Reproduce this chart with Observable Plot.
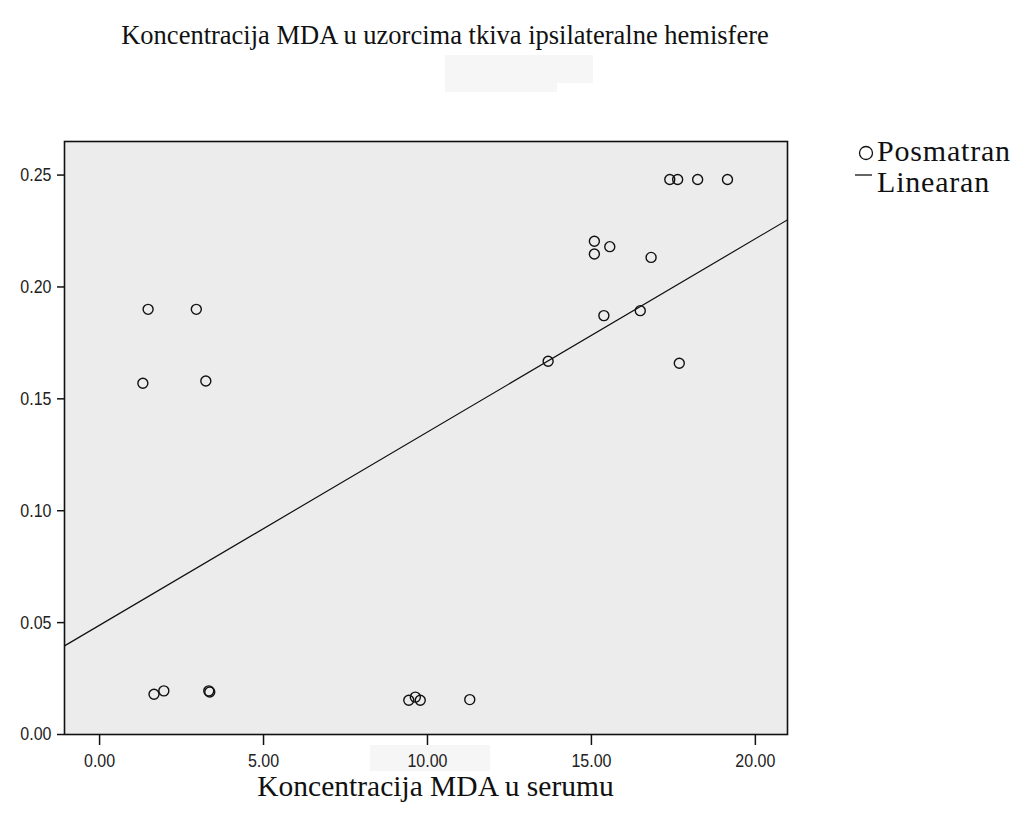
<!DOCTYPE html>
<html><head><meta charset="utf-8">
<script src="https://cdn.jsdelivr.net/npm/d3@7"></script>
<script src="https://cdn.jsdelivr.net/npm/@observablehq/plot@0.6"></script>
<style>
body{margin:0;background:#fff;}
#wrap{position:relative;width:1025px;height:814px;overflow:hidden;background:#fff;}
#wrap svg{position:absolute;left:0;top:0;}
.t{position:absolute;font-family:"Liberation Serif","Times New Roman",serif;color:#111;white-space:nowrap;line-height:1;}
.lg{line-height:0.85;font-size:30px;letter-spacing:0.8px;}
.ghost{position:absolute;background:#f6f6f6;}
</style></head><body>
<div id="wrap">
<div class="ghost" style="left:445px;top:55px;width:148px;height:28px;"></div>
<div class="ghost" style="left:445px;top:83px;width:112px;height:9px;"></div>
<div class="ghost" style="left:370px;top:745px;width:120px;height:26px;"></div>
<div class="t" style="left:0;width:890px;text-align:center;top:22px;font-size:26.5px;">Koncentracija MDA u uzorcima tkiva ipsilateralne hemisfere</div>
<div class="t" style="left:0;width:871px;text-align:center;top:774px;font-size:29.5px;line-height:0.85;">Koncentracija MDA u serumu</div>
<div class="t lg" style="left:877px;top:137.6px;">Posmatran</div>
<div class="t lg" style="left:877px;top:168.6px;">Linearan</div>
<svg style="position:absolute;left:0;top:0;" width="1025" height="814" id="leg"></svg>
<div id="chart"></div>
</div>
<script>
// Observed points: MDA in serum (x) vs MDA in ipsilateral hemisphere tissue (y)
const serum = [1.48, 2.95, 1.32, 3.24, 1.66, 1.96, 3.33, 3.36, 9.43, 9.63, 9.78, 11.29,
  17.39, 17.63, 18.24, 19.15, 15.09, 15.09, 15.56, 16.82, 15.38, 16.49, 13.68, 17.68];
const tkivo = [0.190, 0.190, 0.157, 0.158, 0.018, 0.0195, 0.0195, 0.019, 0.0153, 0.0167, 0.0153, 0.0156,
  0.248, 0.248, 0.248, 0.248, 0.2204, 0.2147, 0.218, 0.2132, 0.1872, 0.1894, 0.1668, 0.1659];
// Linear fit line, end points
const fitX = [-1.07, 20.98];
const fitY = [0.0396, 0.2300];
const xTicks = [0, 5, 10, 15, 20];
const yTicks = [0, 0.05, 0.10, 0.15, 0.20, 0.25];
const xDomain = [-1.07, 20.98];
const yDomain = [0, 0.265];

const points = serum.map((x, i) => ({x, y: tkivo[i]}));
const fit = fitX.map((x, i) => ({x, y: fitY[i]}));

const chart = Plot.plot({
  width: 1025, height: 814,
  marginLeft: 64, marginRight: 238, marginTop: 141, marginBottom: 80,
  style: {fontFamily: "'Liberation Sans', Arial, sans-serif", color: "#222", background: "transparent"},
  x: {domain: xDomain},
  y: {domain: yDomain},
  marks: [
    Plot.frame({fill: "#ececec", stroke: null}),
    Plot.line(fit, {x: "x", y: "y", stroke: "#111", strokeWidth: 1.2, clip: true}),
    Plot.dot(points, {x: "x", y: "y", r: 5, stroke: "#111", strokeWidth: 1.4, fill: "none"}),
    Plot.frame({stroke: "#111", strokeWidth: 1.6}),
    Plot.axisX({ticks: xTicks, tickFormat: d => d.toFixed(2), tickSize: 11, tickPadding: 8, fontSize: 16, label: null, stroke: "#111", strokeWidth: 1.5}),
    Plot.axisY({ticks: yTicks, tickFormat: d => d.toFixed(2), tickSize: 7, tickPadding: 6, fontSize: 16, label: null, stroke: "#111", strokeWidth: 1.5})
  ]
});
// stretch tick labels vertically like the reference's tall narrow digits
chart.querySelectorAll('g[aria-label$="tick label"] text').forEach(t => {
  const tr = t.getAttribute("transform") || "";
  t.setAttribute("transform", tr + " scale(1,1.15)");
});
document.getElementById("chart").appendChild(chart);

// legend symbols
const leg = d3.select("#leg");
leg.append("circle").attr("cx", 866).attr("cy", 153).attr("r", 6.5).attr("fill", "none").attr("stroke", "#111").attr("stroke-width", 1.3);
leg.append("line").attr("x1", 855).attr("x2", 872).attr("y1", 175).attr("y2", 175).attr("stroke", "#111").attr("stroke-width", 1.3);
</script>
</body></html>
